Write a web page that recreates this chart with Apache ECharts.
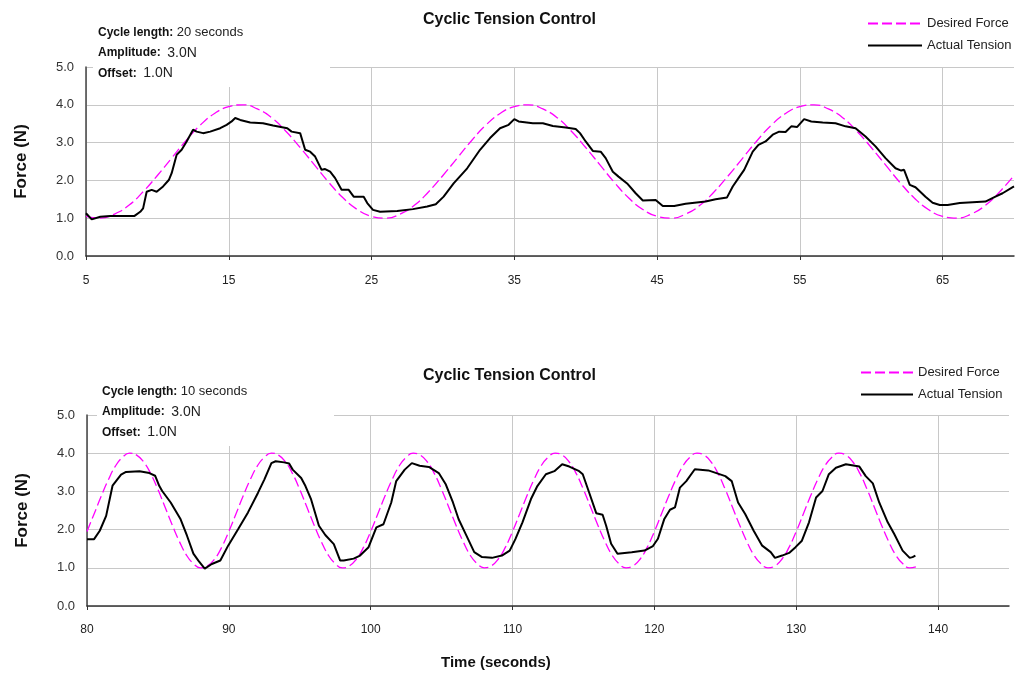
<!DOCTYPE html>
<html>
<head>
<meta charset="utf-8">
<script src="https://cdn.jsdelivr.net/npm/echarts@6/dist/echarts.min.js"></script>
<style>
  html, body { margin: 0; padding: 0; background: #fff; }
  #chart { width: 1028px; height: 677px; }
</style>
</head>
<body>
<div id="chart"></div>
<script>
// top panel: 20 s cycle, desired force sampled every 1 s from t = 5
const topDesiredStart = 5
const topDesiredStep = 1
const topDesired = [
  1.05, 1.00, 1.11, 1.34, 1.70, 2.13, 2.59, 3.05, 3.46, 3.77, 3.95, 4.00, 3.89, 3.66, 3.30, 2.87, 2.41, 1.95, 1.54, 1.23, 1.05,
  1.00, 1.11, 1.34, 1.70, 2.13, 2.59, 3.05, 3.46, 3.77, 3.95, 4.00, 3.89, 3.66, 3.30, 2.87, 2.41, 1.95, 1.54, 1.23, 1.05,
  1.00, 1.11, 1.34, 1.70, 2.13, 2.59, 3.05, 3.46, 3.77, 3.95, 4.00, 3.89, 3.66, 3.30, 2.87, 2.41, 1.95, 1.54, 1.23, 1.05,
  1.00, 1.11, 1.34, 1.70, 2.13
]

// top panel: measured tension [time, force]
const topActual = [
  [5, 1.13], [5.4, 0.97], [6.0, 1.04], [6.7, 1.06], [8.4, 1.06], [8.8, 1.17], [9.0, 1.26], [9.25, 1.70],
  [9.6, 1.75], [9.95, 1.70], [10.4, 1.84], [10.8, 2.01], [11.0, 2.19], [11.35, 2.68], [11.7, 2.81], [12.05, 3.03],
  [12.5, 3.34], [12.75, 3.29], [13.2, 3.25], [13.7, 3.29], [14.4, 3.38], [14.85, 3.47], [15.2, 3.56], [15.45, 3.65],
  [15.8, 3.60], [16.5, 3.53], [17.4, 3.51], [18.1, 3.45], [19.1, 3.38], [19.4, 3.29], [20.0, 3.25], [20.1, 3.21],
  [20.35, 2.81], [20.7, 2.76], [21.05, 2.63], [21.5, 2.28], [21.75, 2.30], [22.1, 2.23], [22.45, 2.06], [22.9, 1.75],
  [23.4, 1.75], [23.75, 1.57], [24.45, 1.57], [24.7, 1.40], [25.1, 1.22], [25.6, 1.17], [26.8, 1.19], [27.9, 1.24],
  [28.9, 1.31], [29.5, 1.37], [30.05, 1.57], [30.75, 1.92], [31.7, 2.32], [32.6, 2.81], [33.3, 3.12], [34.0, 3.38],
  [34.6, 3.47], [35.0, 3.62], [35.3, 3.56], [36.3, 3.51], [37.0, 3.51], [37.7, 3.44], [38.6, 3.40], [39.3, 3.36],
  [39.6, 3.25], [40.0, 3.03], [40.5, 2.78], [41.05, 2.76], [41.4, 2.59], [41.9, 2.23], [42.3, 2.10], [42.9, 1.92],
  [43.5, 1.66], [44.0, 1.47], [44.9, 1.48], [45.4, 1.32], [46.2, 1.32], [47.0, 1.38], [48.4, 1.44], [49.1, 1.50],
  [49.9, 1.55], [50.3, 1.84], [50.7, 2.06], [51.1, 2.28], [51.7, 2.76], [52.1, 2.94], [52.6, 3.03], [53.1, 3.21],
  [53.55, 3.29], [54.0, 3.28], [54.4, 3.43], [54.8, 3.41], [55.3, 3.62], [55.8, 3.56], [56.6, 3.53], [57.5, 3.51],
  [58.2, 3.43], [58.9, 3.38], [59.6, 3.16], [60.3, 2.90], [61.0, 2.59], [61.7, 2.32], [62.1, 2.26], [62.3, 2.28],
  [62.7, 1.88], [63.1, 1.82], [63.8, 1.57], [64.3, 1.41], [64.8, 1.35], [65.35, 1.35], [66.2, 1.40], [67.1, 1.42],
  [68.0, 1.44], [68.7, 1.57], [69.2, 1.66], [70.0, 1.84]
]

// bottom panel: 10 s cycle, desired force sampled every 0.5 s from t = 80
const bottomDesiredStart = 80
const bottomDesiredStep = 0.5
const bottomDesired = [
  1.95, 2.41, 2.87, 3.30, 3.66, 3.89, 4.00, 3.95, 3.77, 3.46, 3.05, 2.59, 2.13, 1.70, 1.34, 1.11, 1.00, 1.05, 1.23, 1.54,
  1.95, 2.41, 2.87, 3.30, 3.66, 3.89, 4.00, 3.95, 3.77, 3.46, 3.05, 2.59, 2.13, 1.70, 1.34, 1.11, 1.00, 1.05, 1.23, 1.54,
  1.95, 2.41, 2.87, 3.30, 3.66, 3.89, 4.00, 3.95, 3.77, 3.46, 3.05, 2.59, 2.13, 1.70, 1.34, 1.11, 1.00, 1.05, 1.23, 1.54,
  1.95, 2.41, 2.87, 3.30, 3.66, 3.89, 4.00, 3.95, 3.77, 3.46, 3.05, 2.59, 2.13, 1.70, 1.34, 1.11, 1.00, 1.05, 1.23, 1.54,
  1.95, 2.41, 2.87, 3.30, 3.66, 3.89, 4.00, 3.95, 3.77, 3.46, 3.05, 2.59, 2.13, 1.70, 1.34, 1.11, 1.00, 1.05, 1.23, 1.54,
  1.95, 2.41, 2.87, 3.30, 3.66, 3.89, 4.00, 3.95, 3.77, 3.46, 3.05, 2.59, 2.13, 1.70, 1.34, 1.11, 1.00, 1.03
]

// bottom panel: measured tension [time, force]
const bottomActual = [
  [80, 1.75], [80.5, 1.75], [80.9, 1.97], [81.35, 2.36], [81.8, 3.15], [82.4, 3.44], [82.75, 3.51], [83.7, 3.53],
  [84.4, 3.48], [84.8, 3.41], [85.1, 3.14], [85.3, 3.01], [85.9, 2.71], [86.6, 2.27], [87.05, 1.84], [87.5, 1.37],
  [87.85, 1.19], [88.3, 0.98], [88.8, 1.10], [89.4, 1.19], [89.95, 1.58], [90.65, 2.01], [91.35, 2.45], [92.05, 2.96],
  [92.5, 3.31], [93.0, 3.74], [93.3, 3.79], [93.9, 3.76], [94.25, 3.73], [94.5, 3.57], [95.1, 3.35], [95.4, 3.14],
  [95.8, 2.79], [96.35, 2.10], [96.8, 1.86], [97.4, 1.62], [97.85, 1.19], [98.1, 1.19], [98.8, 1.24], [99.25, 1.32],
  [99.85, 1.54], [100.4, 2.06], [100.9, 2.14], [101.45, 2.71], [101.8, 3.27], [102.4, 3.57], [102.9, 3.74], [103.45, 3.67],
  [104.1, 3.64], [104.8, 3.48], [105.3, 3.18], [105.8, 2.71], [106.2, 2.27], [106.7, 1.88], [107.3, 1.41], [107.85, 1.28],
  [108.55, 1.26], [109.25, 1.32], [109.8, 1.45], [110.2, 1.75], [110.7, 2.19], [111.3, 2.80], [111.75, 3.14], [112.35, 3.45],
  [112.95, 3.53], [113.5, 3.71], [114.0, 3.65], [114.7, 3.53], [114.95, 3.45], [115.4, 2.97], [115.9, 2.43], [116.35, 2.39],
  [116.6, 2.10], [116.95, 1.63], [117.4, 1.37], [118.4, 1.41], [119.3, 1.45], [119.9, 1.57], [120.25, 1.76], [120.7, 2.28],
  [121.1, 2.52], [121.45, 2.58], [121.8, 3.10], [122.25, 3.27], [122.85, 3.58], [123.8, 3.55], [125.0, 3.40], [125.45, 3.27],
  [125.9, 2.71], [126.4, 2.41], [127.0, 1.97], [127.6, 1.58], [128.2, 1.41], [128.5, 1.26], [129.0, 1.32], [129.5, 1.39],
  [129.95, 1.54], [130.4, 1.71], [130.9, 2.19], [131.4, 2.84], [131.85, 3.01], [132.3, 3.45], [132.8, 3.62], [133.5, 3.71],
  [134.45, 3.65], [134.9, 3.40], [135.4, 3.21], [135.85, 2.71], [136.45, 2.19], [136.9, 1.89], [137.5, 1.45], [138.0, 1.26],
  [138.2, 1.28], [138.4, 1.32]
]

const topLabelTicks = [5, 15, 25, 35, 45, 55, 65]
const bottomLabelTicks = [80, 90, 100, 110, 120, 130, 140]

const FONT = 'Liberation Sans, Arial, sans-serif'
const chart = echarts.init(document.getElementById('chart'))

const makeX = (gridIndex, min, max, labelTicks, margin) => ({
  type: 'value',
  gridIndex,
  min,
  max,
  interval: 5,
  axisLine: { lineStyle: { color: '#333', width: 1.5 } },
  axisTick: { show: true, customValues: labelTicks, length: 4, lineStyle: { color: '#333' } },
  axisLabel: { customValues: labelTicks, margin, fontSize: 12, color: '#222', fontFamily: FONT },
  splitLine: { show: true, lineStyle: { color: '#c8c8c8', width: 1 } }
})

const makeY = (gridIndex) => ({
  type: 'value',
  gridIndex,
  min: 0,
  max: 5,
  interval: 1,
  name: 'Force (N)',
  nameLocation: 'middle',
  nameRotate: 90,
  nameGap: 56,
  nameTextStyle: { fontSize: 17, fontWeight: 'bold', color: '#111', fontFamily: FONT },
  axisLine: { show: true, lineStyle: { color: '#444', width: 1.5 } },
  axisTick: { show: false },
  axisLabel: { formatter: v => v.toFixed(1), margin: 12, fontSize: 13, color: '#333', fontFamily: FONT },
  splitLine: { show: true, lineStyle: { color: '#c8c8c8', width: 1 } }
})

const desiredStyle = { color: '#ff00ff', width: 1.3, type: [10, 4] }
const actualStyle = { color: '#000', width: 2 }

// white note box with the cycle settings, covers the grid behind it
const noteBox = (x, y, cycle) => ({
  type: 'group',
  left: x,
  top: y,
  z: 100,
  children: [
    { type: 'rect', z: 100, shape: { x: 0, y: 0, width: 237, height: 67 }, style: { fill: '#fff' } },
    {
      type: 'text', z: 101, x: 5, y: 2,
      style: {
        text: '{b|Cycle length:} {n|' + cycle + '}\n{b|Amplitude:}  {v|3.0N}\n{b|Offset:}  {v|1.0N}',
        rich: {
          b: { fontSize: 12, fontWeight: 'bold', fill: '#111', fontFamily: FONT, lineHeight: 20.5 },
          n: { fontSize: 13, fill: '#222', fontFamily: FONT, lineHeight: 20.5 },
          v: { fontSize: 14, fill: '#222', fontFamily: FONT, lineHeight: 20.5 }
        }
      }
    }
  ]
})

// line-only legend swatches: hide the symbol, keep the series line style
const legendBase = {
  data: ['Desired Force', 'Actual Tension'],
  orient: 'vertical',
  itemHeight: 12,
  itemGap: 9,
  itemStyle: { opacity: 0 },
  textStyle: { fontSize: 13, color: '#222', fontFamily: FONT }
}

const option = {
  animation: false,
  backgroundColor: '#fff',
  title: [
    { text: 'Cyclic Tension Control', left: 418, top: 7, textStyle: { fontSize: 16, fontWeight: 'bold', color: '#111', fontFamily: FONT } },
    { text: 'Cyclic Tension Control', left: 418, top: 363, textStyle: { fontSize: 16, fontWeight: 'bold', color: '#111', fontFamily: FONT } }
  ],
  legend: [
    Object.assign({}, legendBase, { left: 862, top: 12, itemWidth: 54 }),
    Object.assign({}, legendBase, { left: 855, top: 361, itemWidth: 52 })
  ],
  grid: [
    { left: 86, top: 67, width: 928, height: 189 },
    { left: 87, top: 415, width: 922, height: 191 }
  ],
  xAxis: [
    makeX(0, 5, 70, topLabelTicks, 19),
    makeX(1, 80, 145, bottomLabelTicks, 18)
  ],
  yAxis: [makeY(0), makeY(1)],
  graphic: [
    noteBox(93, 20, '20 seconds'),
    noteBox(97, 379, '10 seconds'),
    {
      type: 'text', left: 441, top: 655,
      style: { text: 'Time (seconds)', fontSize: 15, fontWeight: 'bold', fill: '#111', fontFamily: FONT }
    }
  ],
  series: [
    {
      name: 'Desired Force', type: 'line', xAxisIndex: 0, yAxisIndex: 0,
      data: topDesired.map((v, i) => [topDesiredStart + i * topDesiredStep, v]),
      smooth: true, symbol: 'none', lineStyle: desiredStyle, itemStyle: { color: '#ff00ff' }
    },
    {
      name: 'Actual Tension', type: 'line', xAxisIndex: 0, yAxisIndex: 0,
      data: topActual, symbol: 'none', lineStyle: actualStyle, itemStyle: { color: '#000' }
    },
    {
      name: 'Desired Force', type: 'line', xAxisIndex: 1, yAxisIndex: 1,
      data: bottomDesired.map((v, i) => [bottomDesiredStart + i * bottomDesiredStep, v]),
      smooth: true, symbol: 'none', lineStyle: desiredStyle, itemStyle: { color: '#ff00ff' }
    },
    {
      name: 'Actual Tension', type: 'line', xAxisIndex: 1, yAxisIndex: 1,
      data: bottomActual, symbol: 'none', lineStyle: actualStyle, itemStyle: { color: '#000' }
    }
  ]
}

chart.setOption(option)
</script>
</body>
</html>
